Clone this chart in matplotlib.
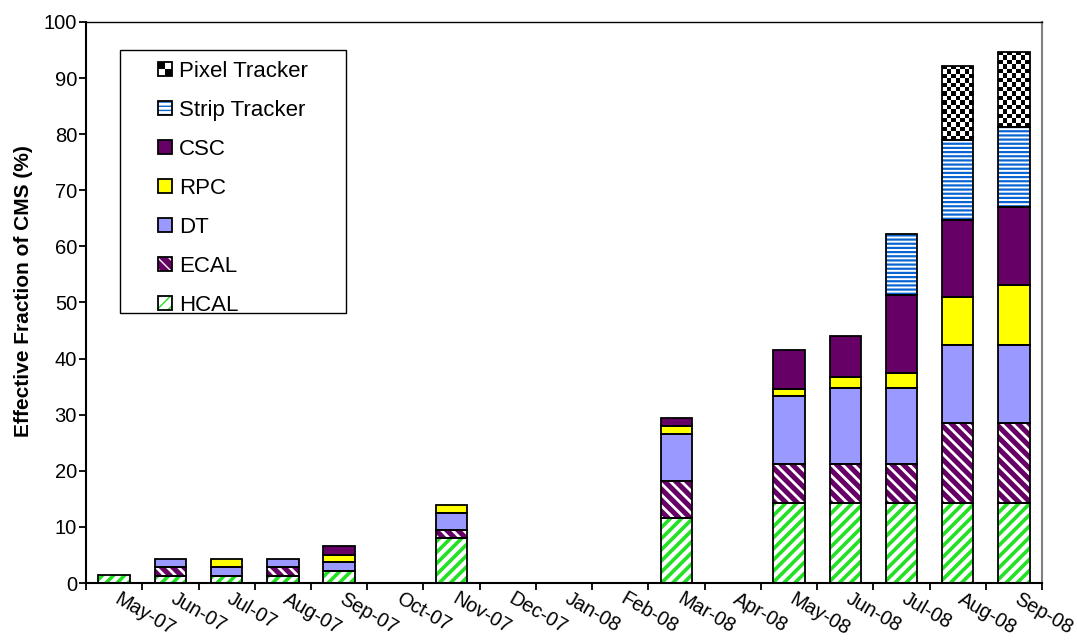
import numpy as np
import matplotlib.pyplot as plt
from matplotlib import transforms
from matplotlib.patches import Patch, Rectangle
from matplotlib.legend_handler import HandlerBase

plt.rcParams['font.family'] = ['Liberation Sans', 'DejaVu Sans']

months = ['May-07', 'Jun-07', 'Jul-07', 'Aug-07', 'Sep-07', 'Oct-07', 'Nov-07',
          'Dec-07', 'Jan-08', 'Feb-08', 'Mar-08', 'Apr-08', 'May-08', 'Jun-08',
          'Jul-08', 'Aug-08', 'Sep-08']

# segment heights (% of CMS), stacked bottom to top
hcal = [1.4, 1.3, 1.3, 1.3, 2.2, 0, 8.0, 0, 0, 0, 11.5, 0, 14.2, 14.2, 14.2, 14.2, 14.2]
ecal = [0, 1.5, 0, 1.5, 0, 0, 1.4, 0, 0, 0, 6.6, 0, 7.1, 7.0, 7.1, 14.3, 14.3]
dt = [0, 1.5, 1.5, 1.5, 1.5, 0, 3.0, 0, 0, 0, 8.5, 0, 12.0, 13.5, 13.4, 14.0, 14.0]
rpc = [0, 0, 1.5, 0, 1.3, 0, 1.5, 0, 0, 0, 1.4, 0, 1.3, 2.1, 2.8, 8.4, 10.7]
csc = [0, 0, 0, 0, 1.6, 0, 0, 0, 0, 0, 1.5, 0, 6.9, 7.2, 13.8, 13.8, 13.9]
strip = [0, 0, 0, 0, 0, 0, 0, 0, 0, 0, 0, 0, 0, 0, 10.9, 14.3, 14.1]
pixel = [0, 0, 0, 0, 0, 0, 0, 0, 0, 0, 0, 0, 0, 0, 0, 13.2, 13.4]

# name, values, face colour, hatch colour, hatch, hatch linewidth
series = [
    ('HCAL', hcal, 'white', '#22e022', '///', 2.6),
    ('ECAL', ecal, '#660066', 'white', '\\\\\\', 2.0),
    ('DT', dt, '#9999ff', '#9999ff', None, 1.0),
    ('RPC', rpc, '#ffff00', '#ffff00', None, 1.0),
    ('CSC', csc, '#660066', '#660066', None, 1.0),
    ('Strip Tracker', strip, 'white', '#0a64d2', '----', 1.6),
]


class CheckerHandler(HandlerBase):
    def create_artists(self, legend, orig_handle, xdescent, ydescent, width, height, fontsize, trans):
        w, h = width / 2, height / 2
        arts = []
        for i in range(2):
            for j in range(2):
                c = 'black' if (i + j) % 2 == 1 else 'white'
                arts.append(Rectangle((-xdescent + i * w, -ydescent + j * h), w, h,
                                      facecolor=c, edgecolor='none', transform=trans))
        arts.append(Rectangle((-xdescent, -ydescent), width, height, fill=False,
                              edgecolor='black', lw=1.3, transform=trans))
        return arts


fig = plt.figure(figsize=(10.77, 6.43), dpi=100)
ax = fig.add_axes([0.0799, 0.0933, 0.8877, 0.8725])

n = len(months)
x = np.arange(n) + 0.5
width = 0.56
bottom = np.zeros(n)
handles = {}
for name, vals, fc, hc, hatch, hlw in series:
    vals = np.array(vals, dtype=float)
    with plt.rc_context({'hatch.linewidth': hlw}):
        fill = ax.bar(x, vals, width, bottom=bottom, color=fc, edgecolor=hc,
                      hatch=hatch, linewidth=0, zorder=2)
        proxy = Patch(facecolor=fc, edgecolor=hc, hatch=hatch, linewidth=0)
    edge = ax.bar(x, vals, width, bottom=bottom, fill=False, edgecolor='black',
                  linewidth=1.3, zorder=4)
    for p, q, v in zip(fill, edge, vals):
        if v <= 0:
            p.set_visible(False)
            q.set_visible(False)
    handles[name] = (proxy, Patch(fill=False, edgecolor='black', linewidth=1.3))
    bottom += vals

# pixel tracker: checkerboard clipped to each bar
pix = np.array(pixel, dtype=float)
pbars = ax.bar(x, pix, width, bottom=bottom, color='white', edgecolor='black',
               linewidth=1.3, zorder=4)
for p, v in zip(pbars, pix):
    if v <= 0:
        p.set_visible(False)
        continue
    p.set_facecolor('none')
    x0, y0 = p.get_x(), p.get_y()
    ny, nx = int(round(p.get_height() / 0.77)), 7
    board = np.indices((ny, nx)).sum(axis=0) % 2
    im = ax.imshow(board, cmap='gray', extent=(x0, x0 + p.get_width(), y0, y0 + p.get_height()),
                   aspect='auto', interpolation='nearest', zorder=3)
    im.set_clip_path(p)
pixel_proxy = Patch(facecolor='black')

ax.set_xlim(0, n)
ax.set_ylim(0, 100)
ax.set_aspect('auto')

ax.set_yticks(np.arange(0, 101, 10))
ax.tick_params(axis='y', direction='out', length=5, width=1.3, labelsize=14.5, pad=1.5)
ax.set_xticks(np.arange(0, n + 1))
ax.set_xticks(x, minor=True)
ax.set_xticklabels(months, minor=True, rotation=-30, ha='left', va='top',
                   rotation_mode='anchor', fontsize=14.2)
ax.tick_params(axis='x', which='major', direction='out', length=5, width=1.3, labelbottom=False)
ax.tick_params(axis='x', which='minor', length=0, pad=4.5)
shift = transforms.ScaledTranslation(5 / 72, 0, fig.dpi_scale_trans)
for lab in ax.get_xticklabels(minor=True):
    lab.set_transform(lab.get_transform() + shift)

for side in ['left', 'bottom']:
    ax.spines[side].set_linewidth(1.5)
ax.spines['top'].set_linewidth(1.0)
ax.spines['right'].set_color('#808080')
ax.spines['right'].set_linewidth(1.5)

ax.set_ylabel('Effective Fraction of CMS (%)', fontsize=15, fontweight='bold')
ax.yaxis.set_label_coords(-0.0554, 0.52)

order = ['Strip Tracker', 'CSC', 'RPC', 'DT', 'ECAL', 'HCAL']
leg = ax.legend([pixel_proxy] + [handles[k] for k in order], ['Pixel Tracker'] + order,
                handler_map={pixel_proxy: CheckerHandler()},
                loc='upper left', bbox_to_anchor=(0.0753, 0.931), frameon=False,
                borderpad=0, borderaxespad=0, fontsize=16, handlelength=0.63,
                handleheight=0.63, handletextpad=0.3, labelspacing=0.81)
leg.set_zorder(6)
ax.add_patch(Rectangle((0.0356, 0.481), 0.2364, 0.469, transform=ax.transAxes,
                       fill=False, edgecolor='black', linewidth=1.0, zorder=5))

fig.savefig('out.png', dpi=100)
